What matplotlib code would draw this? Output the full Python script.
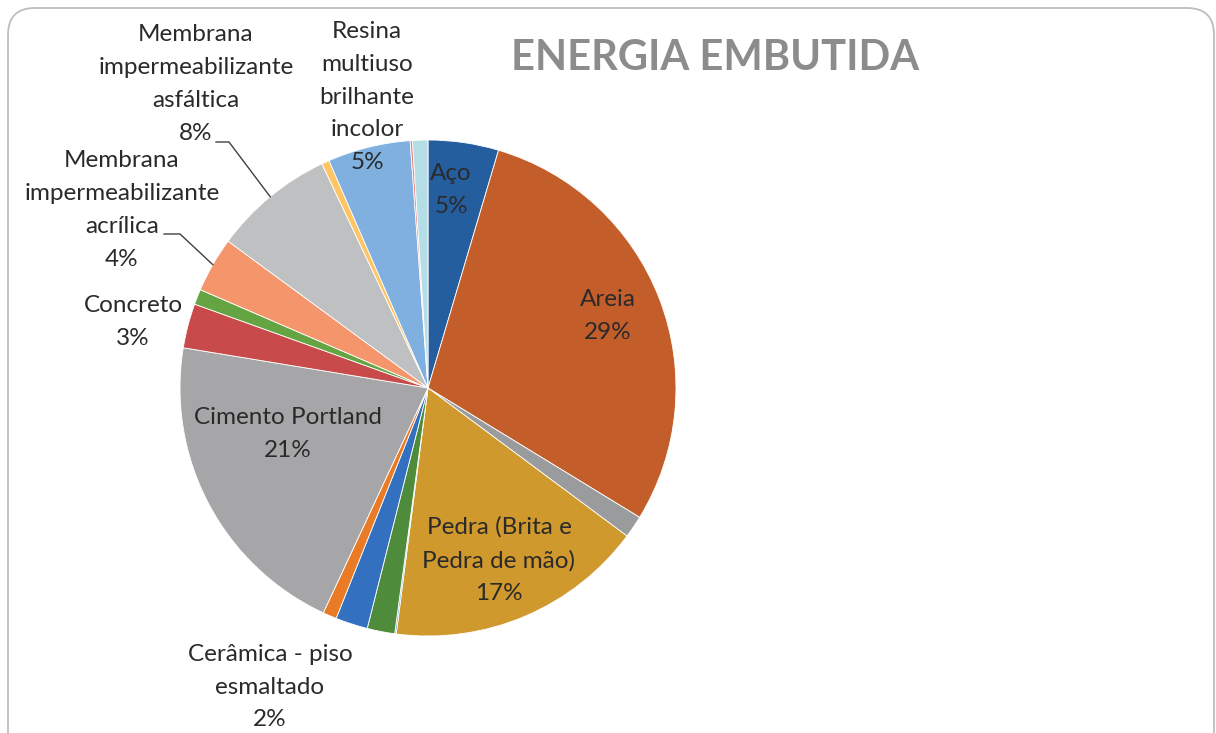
import numpy as np
import matplotlib
matplotlib.use("Agg")
from matplotlib import pyplot as plt
from matplotlib.patches import FancyBboxPatch
from matplotlib.lines import Line2D

# shares of embodied energy (%), clockwise from 12 o'clock
materials = ["Aço", "Areia", "", "Pedra (Brita e\nPedra de mão)", "", "",
             "Cerâmica - piso\nesmaltado", "", "Cimento Portland", "Concreto", "",
             "Membrana\nimpermeabilizante\nacrílica",
             "Membrana\nimpermeabilizante\nasfáltica", "",
             "Resina\nmultiuso\nbrilhante\nincolor", "", ""]
shares = [4.6, 29.2, 1.45, 16.9, 0.1, 1.8, 2.1, 0.9, 20.7, 2.9, 1.0,
          3.6, 7.9, 0.5, 5.4, 0.15, 1.0]
colors = ["#255E9F", "#C35D2A", "#9A9B9D", "#CF992D", "#5B9BD5", "#4E8B3A",
          "#3370BF", "#E97A26", "#A6A6A8", "#C84A4A", "#64A443", "#F5956B",
          "#BFC0C1", "#FFC464", "#7FB0E0", "#F08080", "#B5DDE6"]

W, H = 1216, 733
fig = plt.figure(figsize=(W / 100, H / 100), dpi=100)
plt.rcParams['font.family'] = ['Lato', 'DejaVu Sans']

def px(x, y):
    return x / W, 1 - y / H

# rounded chart border
fig.patches.append(FancyBboxPatch(px(8, 790), (1214 - 8) / W, (790 - 8) / H,
                                  boxstyle="round,pad=0,rounding_size=0.022",
                                  transform=fig.transFigure, fill=False,
                                  edgecolor="#BDBDBD", linewidth=1.3,
                                  mutation_aspect=W / H))

cx, cy, r = 428, 388, 248
ax = fig.add_axes([(cx - r) / W, (H - cy - r) / H, 2 * r / W, 2 * r / H])
wedges, _ = ax.pie(shares, colors=colors, startangle=90, counterclock=False,
                   wedgeprops=dict(edgecolor="white", linewidth=0.6))
ax.set_xlim(-1, 1)
ax.set_ylim(-1, 1)
ax.set_aspect("equal")
ax.axis("off")

total = sum(shares)
txt = "#2A2A2A"
fs = 17.5

# label centres in pixels
label_pos = {0: (451, 190), 1: (608, 316), 3: (499, 560), 8: (288, 434),
             9: (133, 322), 6: (270, 687), 11: (122, 210), 12: (196, 84),
             14: (367, 97)}
for i, (x, y) in label_pos.items():
    s = materials[i] + "\n" + str(int(round(shares[i] / total * 100))) + "%"
    fig.text(*px(x, y), s, ha="center", va="center", fontsize=fs,
             color=txt, linespacing=1.7)

# leader lines to slice mid points
def mid_point(i):
    w = wedges[i]
    a = np.deg2rad((w.theta1 + w.theta2) / 2)
    return cx + r * np.cos(a), cy - r * np.sin(a)

for i, (x0, y0, x1) in {12: (216, 142, 229), 11: (164, 234, 180)}.items():
    mx, my = mid_point(i)
    xs = [x0, x1, mx]
    ys = [y0, y0, my]
    fig.add_artist(Line2D([x / W for x in xs], [1 - y / H for y in ys],
                          color="#404040", linewidth=1.0))

fig.text(*px(715, 58), "ENERGIA EMBUTIDA", ha="center", va="center",
         fontsize=30, fontweight="bold", color="#8C8C8D")

fig.savefig("out.png", dpi=100)
